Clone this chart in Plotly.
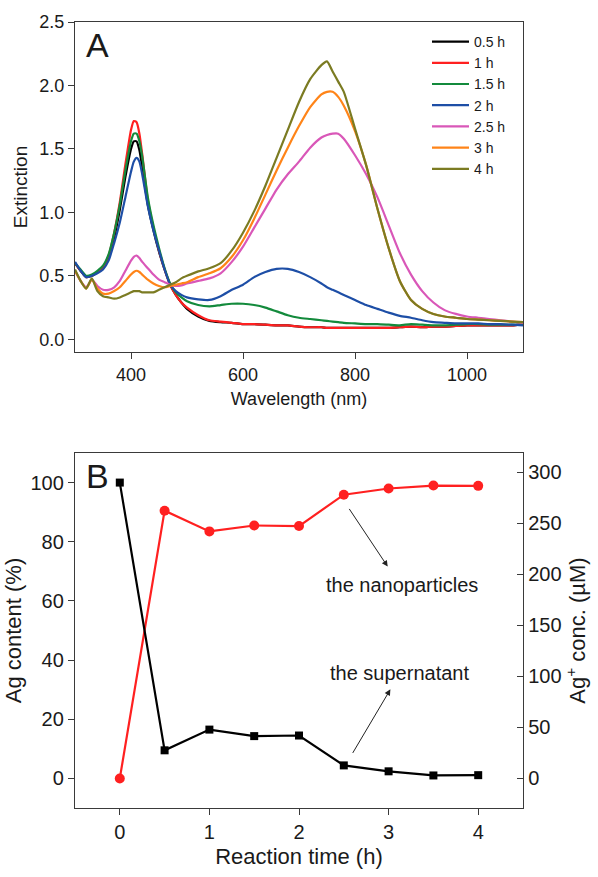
import plotly.graph_objects as go

# ---------------- Panel A data: extinction spectra ----------------
WAVELENGTH = [300, 310, 320, 330, 340, 350, 360, 370, 380, 390, 400, 405, 410, 415, 420,
              430, 440, 450, 460, 470, 480, 490, 500, 520, 540, 560, 580, 600, 620, 640,
              660, 680, 700, 720, 740, 750, 760, 770, 780, 800, 820, 840, 860, 880, 900,
              920, 940, 960, 980, 1000, 1020, 1040, 1060, 1080, 1100]

EXT_0_5H = [0.60, 0.54, 0.49, 0.50, 0.53, 0.56, 0.64, 0.80, 1.02, 1.28, 1.50, 1.56, 1.56, 1.49, 1.36,
            1.06, 0.86, 0.69, 0.55, 0.43, 0.35, 0.29, 0.24, 0.18, 0.145, 0.135, 0.13, 0.12, 0.12, 0.115,
            0.11, 0.11, 0.10, 0.095, 0.095, 0.09, 0.09, 0.09, 0.09, 0.09, 0.09, 0.09, 0.09, 0.095, 0.10,
            0.095, 0.10, 0.10, 0.105, 0.11, 0.11, 0.11, 0.11, 0.11, 0.12]
EXT_1H = [0.60, 0.54, 0.49, 0.50, 0.53, 0.57, 0.66, 0.84, 1.08, 1.38, 1.65, 1.72, 1.71, 1.62, 1.46,
          1.10, 0.88, 0.70, 0.55, 0.43, 0.35, 0.29, 0.25, 0.19, 0.15, 0.14, 0.13, 0.12, 0.12, 0.115,
          0.11, 0.11, 0.10, 0.095, 0.095, 0.09, 0.09, 0.09, 0.09, 0.09, 0.09, 0.09, 0.09, 0.095, 0.10,
          0.095, 0.10, 0.10, 0.105, 0.11, 0.11, 0.11, 0.11, 0.11, 0.12]
EXT_1_5H = [0.60, 0.55, 0.50, 0.51, 0.54, 0.58, 0.67, 0.84, 1.06, 1.33, 1.56, 1.62, 1.62, 1.56, 1.44,
            1.12, 0.90, 0.72, 0.56, 0.44, 0.37, 0.33, 0.30, 0.27, 0.26, 0.27, 0.28, 0.28, 0.27, 0.25,
            0.22, 0.19, 0.17, 0.16, 0.15, 0.145, 0.14, 0.135, 0.13, 0.125, 0.12, 0.12, 0.115, 0.11, 0.12,
            0.115, 0.11, 0.11, 0.115, 0.12, 0.12, 0.115, 0.115, 0.115, 0.12]
EXT_2H = [0.61, 0.54, 0.49, 0.50, 0.52, 0.55, 0.62, 0.76, 0.92, 1.12, 1.32, 1.40, 1.43, 1.40, 1.30,
          1.05, 0.86, 0.70, 0.55, 0.43, 0.38, 0.35, 0.33, 0.315, 0.31, 0.34, 0.39, 0.43, 0.49, 0.53,
          0.555, 0.555, 0.53, 0.49, 0.44, 0.41, 0.39, 0.37, 0.35, 0.31, 0.27, 0.24, 0.21, 0.185, 0.17,
          0.15, 0.135, 0.13, 0.125, 0.125, 0.125, 0.12, 0.12, 0.115, 0.11]
EXT_2_5H = [0.54, 0.46, 0.41, 0.47, 0.42, 0.39, 0.39, 0.41, 0.46, 0.54, 0.62, 0.65, 0.66, 0.64, 0.61,
            0.56, 0.51, 0.47, 0.45, 0.43, 0.42, 0.425, 0.44, 0.46, 0.48, 0.52, 0.61, 0.73, 0.88, 1.03,
            1.18, 1.30, 1.40, 1.51, 1.59, 1.61, 1.62, 1.62, 1.58, 1.45, 1.30, 1.12, 0.90, 0.68, 0.51,
            0.38, 0.29, 0.23, 0.20, 0.18, 0.17, 0.16, 0.15, 0.14, 0.13]
EXT_3H = [0.54, 0.46, 0.40, 0.47, 0.40, 0.36, 0.36, 0.38, 0.41, 0.46, 0.51, 0.53, 0.54, 0.53, 0.51,
          0.47, 0.44, 0.42, 0.41, 0.42, 0.43, 0.44, 0.45, 0.49, 0.52, 0.56, 0.65, 0.78, 0.95, 1.14,
          1.33, 1.51, 1.68, 1.83, 1.93, 1.95, 1.95, 1.91, 1.84, 1.64, 1.37, 1.03, 0.72, 0.46, 0.31,
          0.24, 0.20, 0.18, 0.17, 0.16, 0.155, 0.15, 0.145, 0.14, 0.135]
EXT_4H = [0.55, 0.46, 0.40, 0.48, 0.38, 0.34, 0.33, 0.32, 0.33, 0.35, 0.37, 0.38, 0.38, 0.38, 0.37,
          0.37, 0.37, 0.39, 0.41, 0.43, 0.45, 0.48, 0.50, 0.535, 0.56, 0.60, 0.70, 0.84, 1.01, 1.21,
          1.43, 1.65, 1.87, 2.05, 2.16, 2.19, 2.11, 2.03, 1.95, 1.66, 1.37, 1.03, 0.72, 0.46, 0.31,
          0.24, 0.20, 0.18, 0.17, 0.16, 0.155, 0.15, 0.145, 0.14, 0.135]

SERIES_NAMES = ["0.5 h", "1 h", "1.5 h", "2 h", "2.5 h", "3 h", "4 h"]
SERIES_VALUES = [EXT_0_5H, EXT_1H, EXT_1_5H, EXT_2H, EXT_2_5H, EXT_3H, EXT_4H]
SERIES_COLORS = ["#000000", "#ff2020", "#138a3c", "#1d4ea6", "#d957b8", "#ff8418", "#7b7b22"]

# ---------------- Panel B data ----------------
TIME_H = [0, 0.5, 1, 1.5, 2, 2.5, 3, 3.5, 4]
AG_NANOPARTICLES = [0, 90.5, 83.5, 85.5, 85.3, 95.9, 98.0, 99.0, 98.9]
AG_SUPERNATANT = [100, 9.5, 16.5, 14.3, 14.5, 4.4, 2.4, 1.0, 1.1]

FONT = "Liberation Sans, Arial, sans-serif"
AXC = "#3a3a3a"
W, H = 598, 877

fig = go.Figure()

for name, vals, col in zip(SERIES_NAMES, SERIES_VALUES, SERIES_COLORS):
    fig.add_trace(go.Scatter(x=WAVELENGTH, y=vals, mode="lines", name=name,
                             line=dict(color=col, width=2.2, shape="spline", smoothing=0.6),
                             xaxis="x", yaxis="y"))

fig.add_trace(go.Scatter(x=TIME_H, y=AG_NANOPARTICLES, mode="lines+markers", showlegend=False,
                         line=dict(color="#ff2020", width=2.2),
                         marker=dict(symbol="circle", size=10, color="#ff2020"),
                         xaxis="x2", yaxis="y2"))
fig.add_trace(go.Scatter(x=TIME_H, y=AG_SUPERNATANT, mode="lines+markers", showlegend=False,
                         line=dict(color="#000000", width=2.2),
                         marker=dict(symbol="square", size=8, color="#000000"),
                         xaxis="x2", yaxis="y2"))
# empty trace so that the secondary (µM) axis is drawn
fig.add_trace(go.Scatter(x=[None], y=[None], mode="lines", showlegend=False, hoverinfo="skip",
                         xaxis="x2", yaxis="y3"))


def px_x(p):
    return p / W


def px_y(p):
    return 1 - p / H


common = dict(showline=True, linecolor=AXC, linewidth=1.4, showgrid=False, zeroline=False,
              ticks="outside", ticklen=6, tickwidth=1.4, tickcolor=AXC)

fig.update_layout(
    width=W, height=H,
    margin=dict(l=0, r=0, t=0, b=0, autoexpand=False),
    paper_bgcolor="white", plot_bgcolor="white",
    font=dict(family=FONT, color="#1a1a1a"),
    xaxis=dict(domain=[px_x(75), px_x(523)], anchor="y", range=[300, 1100],
               tickvals=[400, 600, 800, 1000], mirror=True, tickfont=dict(size=18),
               title=dict(text="Wavelength (nm)", font=dict(size=18), standoff=8), **common),
    yaxis=dict(domain=[px_y(352), px_y(22)], anchor="x", range=[-0.1, 2.5],
               tickvals=[0, 0.5, 1.0, 1.5, 2.0, 2.5], tickformat=".1f", mirror=True,
               tickfont=dict(size=18),
               title=dict(text="Extinction", font=dict(size=19), standoff=6), **common),
    xaxis2=dict(domain=[px_x(75), px_x(523)], anchor="y2", range=[-0.5, 4.5],
                tickvals=[0, 1, 2, 3, 4], mirror=True, tickfont=dict(size=20),
                title=dict(text="Reaction time (h)", font=dict(size=22), standoff=6), **common),
    yaxis2=dict(domain=[px_y(808), px_y(453)], anchor="x2", range=[-10, 110],
                tickvals=[0, 20, 40, 60, 80, 100], mirror=True, tickfont=dict(size=20),
                title=dict(text="Ag content (%)", font=dict(size=22), standoff=2), **common),
    yaxis3=dict(overlaying="y2", anchor="x2", side="right", range=[-29, 319],
                tickvals=[0, 50, 100, 150, 200, 250, 300], showline=True, linecolor=AXC,
                linewidth=1.4, showgrid=False, zeroline=False, ticks="inside", ticklen=6,
                tickwidth=1.4, tickcolor=AXC, tickfont=dict(size=20),
                title=dict(text="Ag<sup>+</sup> conc. (\u00b5M)", font=dict(size=22), standoff=8)),
    legend=dict(x=px_x(427), y=px_y(26), xanchor="left", yanchor="top", itemwidth=37,
                font=dict(size=14), bgcolor="rgba(0,0,0,0)", tracegroupgap=0),
    annotations=[
        dict(text="A", xref="paper", yref="paper", x=px_x(97), y=px_y(45), xanchor="center",
             yanchor="middle", showarrow=False, font=dict(size=34)),
        dict(text="B", xref="paper", yref="paper", x=px_x(97), y=px_y(476), xanchor="center",
             yanchor="middle", showarrow=False, font=dict(size=34)),
        dict(text="", xref="x2", yref="y2", axref="x2", ayref="y2", x=2.99, y=71.6, ax=2.55, ay=91.6,
             showarrow=True, arrowhead=2, arrowsize=1.2, arrowwidth=1, arrowcolor="#222"),
        dict(text="", xref="x2", yref="y2", axref="x2", ayref="y2", x=3.02, y=30.1, ax=2.59, ay=8.1,
             showarrow=True, arrowhead=2, arrowsize=1.2, arrowwidth=1, arrowcolor="#222"),
        dict(text="the nanoparticles", xref="x2", yref="y2", x=3.15, y=65.5, showarrow=False,
             font=dict(size=20), xanchor="center", yanchor="middle"),
        dict(text="the supernatant", xref="x2", yref="y2", x=3.12, y=35.5, showarrow=False,
             font=dict(size=20), xanchor="center", yanchor="middle"),
    ],
)

fig.write_html("out.html", config={"displayModeBar": False},
               post_script="document.body.style.margin='0';document.body.style.overflow='hidden';")
